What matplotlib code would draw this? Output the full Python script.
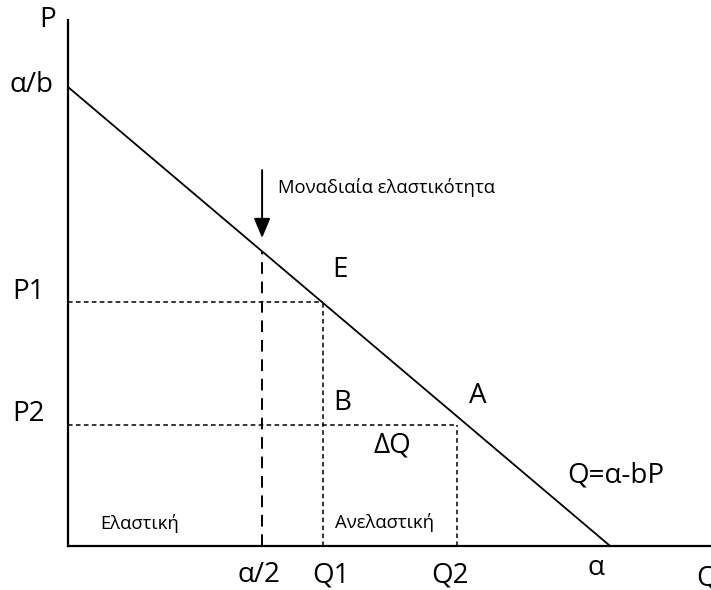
import matplotlib
matplotlib.use("Agg")
import matplotlib.pyplot as plt

plt.rcParams['font.family'] = ['Open Sans', 'DejaVu Sans']

# demand curve Q = a - bP (intercepts, scaled to 10)
a = 10.0
a_over_b = 10.0

# points on the quantity axis
q_half = 3.58   # α/2
q1 = 4.70
q2 = 7.18

# prices
p1 = 5.32
p2 = 2.64

fig = plt.figure(figsize=(7.11, 5.90), dpi=100)
ax = fig.add_axes([68 / 711, 44 / 590, (711 - 68) / 711, (546 - 20) / 590])
ax.set_xlim(0, 11.86)
ax.set_ylim(0, 11.46)
for s in ['top', 'right']:
    ax.spines[s].set_visible(False)
ax.spines['left'].set_linewidth(1.6)
ax.spines['bottom'].set_linewidth(1.6)
ax.set_xticks([])
ax.set_yticks([])

# demand line
ax.plot([0, a], [a_over_b, 0], color='black', lw=1.3, clip_on=False)

# unit elasticity line (long dashes)
p_half = a_over_b - q_half * a_over_b / a
ax.plot([q_half, q_half], [0, p_half], color='black', lw=1.4,
        dashes=(6, 4))

# short dashed guides
d = (3, 2.2)
ax.plot([0, q1], [p1, p1], color='black', lw=1.1, dashes=d)
ax.plot([q1, q1], [0, p1], color='black', lw=1.1, dashes=d)
ax.plot([0, q2], [p2, p2], color='black', lw=1.1, dashes=d)
ax.plot([q2, q2], [0, p2], color='black', lw=1.1, dashes=d)

# arrow to unit elasticity point
ax.annotate('', xy=(q_half, 6.71), xytext=(q_half, 8.19),
            arrowprops=dict(arrowstyle='-|>,head_length=0.6,head_width=0.25',
                            color='black', lw=1.4,
                            mutation_scale=20, shrinkA=0, shrinkB=0))
ax.text(3.87, 7.80, 'Μοναδιαία ελαστικότητα', fontsize=13.3, va='center', ha='left')

big = 20
lbls = [
    (-0.37, 11.46, 'P'),
    (-0.68, 10.04, 'α/b'),
    (-0.72, 5.53, 'P1'),
    (-0.72, 2.88, 'P2'),
    (5.02, 6.01, 'E'),
    (5.06, 3.12, 'B'),
    (7.56, 3.27, 'A'),
    (5.98, 2.18, 'ΔQ'),
    (10.11, 1.53, 'Q=α-bP'),
    (3.52, -0.63, 'α/2'),
    (4.85, -0.65, 'Q1'),
    (7.05, -0.64, 'Q2'),
    (9.74, -0.48, 'α'),
]
for x, y, t in lbls:
    ax.text(x, y, t, fontsize=big, ha='center', va='center', clip_on=False)
# the reference cuts this label at the right edge
ax.text(11.58, -0.70, 'Q', fontsize=big, ha='left', va='center', clip_on=False)

ax.text(1.33, 0.48, 'Ελαστική', fontsize=13.3, ha='center', va='center')
ax.text(5.83, 0.52, 'Ανελαστική', fontsize=13.3, ha='center', va='center')

fig.savefig('out.png', dpi=100)
